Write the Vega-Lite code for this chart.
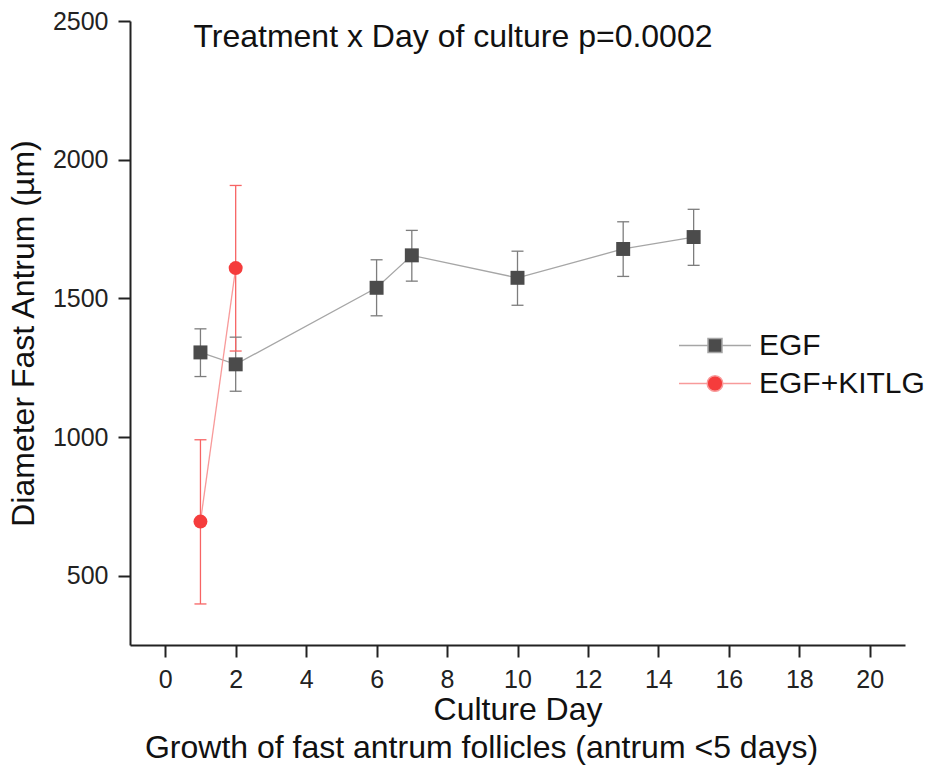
{
  "$schema": "https://vega.github.io/schema/vega-lite/v6.json",
  "width": 775,
  "height": 624,
  "autosize": "none",
  "padding": {"left": 130, "top": 21, "right": 38, "bottom": 126},
  "background": "white",
  "config": {
    "view": {"stroke": null},
    "font": "Liberation Sans",
    "axis": {
      "grid": false,
      "domainColor": "#222222",
      "domainWidth": 2,
      "tickColor": "#222222",
      "tickWidth": 2,
      "tickSize": 12,
      "labelFont": "Liberation Sans",
      "labelFontSize": 25,
      "labelColor": "#222222",
      "labelPadding": 10,
      "labelFlush": false,
      "labelOverlap": false,
      "titleFont": "Liberation Sans",
      "titleFontSize": 32,
      "titleFontWeight": "normal",
      "titleColor": "#111111"
    },
    "legend": {
      "orient": "none",
      "legendX": 570,
      "legendY": 309.5,
      "padding": 0,
      "labelFont": "Liberation Sans",
      "labelFontSize": 30,
      "labelColor": "#111111",
      "labelLimit": 400,
      "labelOffset": 29,
      "symbolSize": 196,
      "symbolStrokeWidth": 1.5,
      "symbolOpacity": 1,
      "rowPadding": 8
    }
  },
  "title": {
    "text": "Growth of fast antrum follicles (antrum <5 days)",
    "orient": "bottom",
    "anchor": "middle",
    "frame": "group",
    "offset": 8,
    "dx": -36,
    "font": "Liberation Sans",
    "fontSize": 32,
    "fontWeight": "normal",
    "color": "#111111"
  },
  "data": {
    "values": [
      {"group": "EGF", "day": 1, "mean": 1305, "lo": 1218, "hi": 1390},
      {"group": "EGF", "day": 2, "mean": 1262, "lo": 1165, "hi": 1360},
      {"group": "EGF", "day": 6, "mean": 1538, "lo": 1437, "hi": 1639},
      {"group": "EGF", "day": 7, "mean": 1655, "lo": 1562, "hi": 1745},
      {"group": "EGF", "day": 10, "mean": 1574, "lo": 1475, "hi": 1670},
      {"group": "EGF", "day": 13, "mean": 1678, "lo": 1579, "hi": 1776},
      {"group": "EGF", "day": 15, "mean": 1721, "lo": 1619, "hi": 1821},
      {"group": "EGF+KITLG", "day": 1, "mean": 695, "lo": 398, "hi": 990},
      {"group": "EGF+KITLG", "day": 2, "mean": 1609, "lo": 1310, "hi": 1907}
    ]
  },
  "layer": [
    {
      "mark": {"type": "rule", "strokeWidth": 1.3},
      "encoding": {
        "x": {
          "field": "day", "type": "quantitative",
          "scale": {"domain": [-1, 21], "nice": false, "zero": false},
          "axis": {
            "title": "Culture Day",
            "values": [0, 2, 4, 6, 8, 10, 12, 14, 16, 18, 20],
            "titleX": 387.5,
            "titleY": 74,
            "titleAlign": "center",
            "titleBaseline": "alphabetic"
          }
        },
        "y": {
          "field": "lo", "type": "quantitative",
          "scale": {"domain": [250, 2500], "nice": false, "zero": false},
          "axis": {
            "title": "Diameter Fast Antrum (µm)",
            "values": [500, 1000, 1500, 2000, 2500],
            "format": "d",
            "titleX": -96.7,
            "titleY": 312,
            "titleAngle": -90,
            "titleAlign": "center",
            "titleBaseline": "alphabetic"
          }
        },
        "y2": {"field": "hi"},
        "color": {
          "field": "group", "type": "nominal",
          "scale": {"range": ["#7d7d7d", "#f76464"]},
          "legend": null
        }
      }
    },
    {
      "mark": {"type": "tick", "orient": "horizontal", "size": 12, "thickness": 1.3, "opacity": 1},
      "encoding": {
        "x": {"field": "day", "type": "quantitative"},
        "y": {"field": "lo", "type": "quantitative"},
        "color": {"field": "group", "type": "nominal", "legend": null}
      }
    },
    {
      "mark": {"type": "tick", "orient": "horizontal", "size": 12, "thickness": 1.3, "opacity": 1},
      "encoding": {
        "x": {"field": "day", "type": "quantitative"},
        "y": {"field": "hi", "type": "quantitative"},
        "color": {"field": "group", "type": "nominal", "legend": null}
      }
    },
    {
      "mark": {"type": "line", "strokeWidth": 1.3},
      "encoding": {
        "x": {"field": "day", "type": "quantitative"},
        "y": {"field": "mean", "type": "quantitative"},
        "stroke": {
          "field": "group", "type": "nominal",
          "scale": {"domain": ["EGF", "EGF+KITLG"], "range": ["#a6a6a6", "#f89a9a"]},
          "legend": {"title": null}
        }
      }
    },
    {
      "transform": [{"filter": "datum.group === 'EGF'"}],
      "mark": {"type": "point", "shape": "square", "filled": true, "opacity": 1, "size": 195, "strokeWidth": 0, "color": "#4b4b4b"},
      "encoding": {
        "x": {"field": "day", "type": "quantitative"},
        "y": {"field": "mean", "type": "quantitative"}
      }
    },
    {
      "transform": [{"filter": "datum.group === 'EGF+KITLG'"}],
      "mark": {"type": "point", "shape": "circle", "filled": true, "opacity": 1, "size": 195, "strokeWidth": 0, "color": "#f53c3c"},
      "encoding": {
        "x": {"field": "day", "type": "quantitative"},
        "y": {"field": "mean", "type": "quantitative"}
      }
    },
    {
      "transform": [{"filter": "false"}],
      "mark": {"type": "point", "filled": true, "opacity": 1, "strokeWidth": 1.5},
      "encoding": {
        "x": {"field": "day", "type": "quantitative"},
        "y": {"field": "mean", "type": "quantitative"},
        "fill": {
          "field": "group", "type": "nominal",
          "scale": {"domain": ["EGF", "EGF+KITLG"], "range": ["#4b4b4b", "#f53c3c"]},
          "legend": {"title": null}
        },
        "shape": {
          "field": "group", "type": "nominal",
          "scale": {
            "domain": ["EGF", "EGF+KITLG"],
            "range": [
              "M-5.14,0H-1M1,0H5.14M-1,-1H1V1H-1Z",
              "M-5.14,0H-1.12M1.12,0H5.14M-1.12,0A1.12,1.12,0,1,0,1.12,0A1.12,1.12,0,1,0,-1.12,0Z"
            ]
          },
          "legend": {"title": null}
        },
        "stroke": {"field": "group", "type": "nominal", "legend": {"title": null}}
      }
    },
    {
      "data": {"values": [{"note": "Treatment x Day of culture p=0.0002"}]},
      "mark": {"type": "text", "align": "left", "baseline": "alphabetic", "font": "Liberation Sans", "fontSize": 32, "color": "#111111"},
      "encoding": {
        "x": {"datum": 0.8, "type": "quantitative"},
        "y": {"datum": 2405, "type": "quantitative"},
        "text": {"field": "note", "type": "nominal"}
      }
    }
  ]
}
